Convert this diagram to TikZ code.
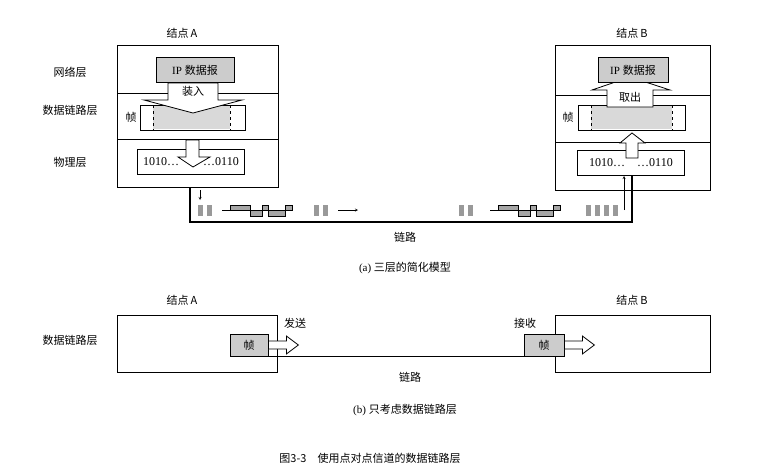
\documentclass[tikz,border=0pt]{standalone}
\usepackage{fontspec}
\setmainfont{Liberation Serif}
\newfontfamily\cjk{Noto Sans CJK SC}
\usetikzlibrary{positioning}
\tikzset{
  lbl/.style={font=\cjk\fontsize{11}{12}\selectfont},
  layer/.style={draw, thick, fill=white},
  ipbox/.style={draw, thick, fill=gray!40, minimum width=78pt, minimum height=25pt, font=\fontsize{11}{12}\selectfont},
  bitbox/.style={draw, thick, fill=white, minimum width=107pt, minimum height=25pt, font=\fontsize{12}{13}\selectfont},
  fat/.style={draw, thick, fill=white},
  pulse/.style={fill=gray!80}
}
\newcommand{\sendarrow}[1]{\draw[fat] (#1) ++(0,-4) -- ++(18,0) -- ++(0,-5) -- ++(12,9) -- ++(-12,9) -- ++(0,-5) -- ++(-18,0) -- cycle;}
\begin{document}
\begin{tikzpicture}[x=1pt,y=-1pt]
\useasboundingbox (0,0) rectangle (763,469);
% (a)
\draw[layer] (117,45) rectangle (278,187);
\draw (117,93) -- (278,93) (117,139) -- (278,139);
\draw[layer] (555,45) rectangle (710,190);
\draw (555,95) -- (710,95) (555,142) -- (710,142);
\node[lbl] (nodeA) at (182,33) {结点\,A};
\node[lbl] (nodeB) at (632,33) {结点\,B};
\node[lbl] (net) at (70,72) {网络层};
\node[lbl] (dll) at (70,110) {数据链路层};
\node[lbl] (phy) at (70,162) {物理层};
% frames
\draw[thick, fill=white] (140,105) rectangle (245,130);
\fill[gray!30] (153,106) rectangle (230,129);
\draw[dashed, thick] (153,105) -- (153,130) (230,105) -- (230,130);
\node[lbl] (zhenA) at (131,117) {帧};
\draw[thick, fill=white] (578,105) rectangle (685,130);
\fill[gray!30] (591,106) rectangle (672,129);
\draw[dashed, thick] (591,105) -- (591,130) (672,105) -- (672,130);
\node[lbl] (zhenB) at (568,117) {帧};
% A side
\node[ipbox] (ipA) at (195,70) {IP \cjk 数据报};
\draw[fat] (168,83) -- (218,83) -- (218,100) -- (242,100) -- (193,113) -- (144,100) -- (168,100) -- cycle;
\node[lbl] (load) at (193,91) {装入};
\node[bitbox] (bitsA) at (191,162) {1010\dots\qquad\dots0110};
\draw[fat] (186,140) -- (199,140) -- (199,157) -- (210,157) -- (193,167) -- (178,157) -- (186,157) -- cycle;
% B side
\draw[fat] (607,107) -- (653,107) -- (653,90) -- (670,90) -- (630,77) -- (592,90) -- (607,90) -- cycle;
\node[ipbox, minimum width=70pt] (ipB) at (633,70) {IP \cjk 数据报};
\node[lbl] (take) at (630,97) {取出};
\node[bitbox] (bitsB) at (631,163) {1010\dots\quad\dots0110};
\draw[fat] (626,158) -- (638,158) -- (638,143) -- (645,143) -- (632,133) -- (620,143) -- (626,143) -- cycle;
% link
\coordinate (la) at (190,187);
\coordinate (lb) at (632,176);
\draw[very thick] (la) -- (190,222) -- (632,222) -- (lb);
\draw[->, >=stealth] (200,190) -- (200,200);
\draw[->, >=stealth] (624,210) -- (624,176);
\foreach \x in {198,207,314,323,459,468,586,595,604,613}
  \fill[pulse] (\x,205) rectangle ++(5,11);
\foreach \o in {0,268}{
  \begin{scope}[xshift=\o]
  \draw (222,210) -- (292,210);
  \draw[fill=gray!70] (230,205) rectangle (250,210) (250,210) rectangle (262,216)
    (262,205) rectangle (268,210) (268,210) rectangle (285,216) (285,205) rectangle (292,210);
  \end{scope}}
\draw[->, >=stealth] (338,210) -- (358,210);
\node[lbl] (link) at (405,237) {链路};
\node[lbl] (capa) at (405,268) {\rmfamily (a) \cjk 三层的简化模型};
% (b)
\node[lbl] (nodeA2) at (182,300) {结点\,A};
\node[lbl] (nodeB2) at (632,300) {结点\,B};
\node[lbl] (dll2) at (70,340) {数据链路层};
\draw[thick] (117,315) rectangle (277,372);
\draw[thick] (555,315) rectangle (710,372);
\node[draw, thick, fill=gray!40, minimum width=38pt, minimum height=22pt, lbl] (fA) at (249,345) {帧};
\node[draw, thick, fill=gray!40, minimum width=40pt, minimum height=22pt, lbl] (fB) at (544,345) {帧};
\sendarrow{fA.east}
\sendarrow{fB.east}
\node[lbl] (send) at (295,323) {发送};
\node[lbl] (recv) at (525,323) {接收};
\draw[thick] (fA.south east) -- (fB.south west);
\node[lbl] (link2) at (410,377) {链路};
\node[lbl] (capb) at (405,410) {\rmfamily (b) \cjk 只考虑数据链路层};
\node[lbl] (fig) at (370,458) {图3-3\quad 使用点对点信道的数据链路层};
\end{tikzpicture}
\end{document}
